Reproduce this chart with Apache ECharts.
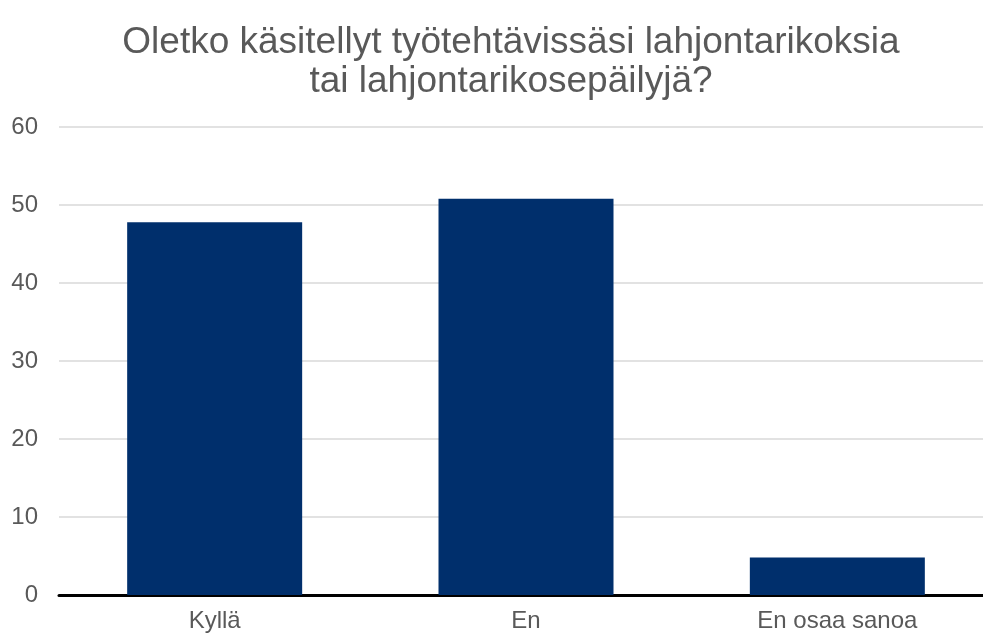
<!DOCTYPE html>
<html>
<head>
<meta charset="utf-8">
<script src="https://cdn.jsdelivr.net/npm/echarts@6/dist/echarts.min.js"></script>
<style>
html,body{margin:0;padding:0;background:#fff;}
#chart{width:983px;height:633px;}
</style>
</head>
<body>
<div id="chart"></div>
<script>
const titleText = "Oletko käsitellyt työtehtävissäsi lahjontarikoksia\ntai lahjontarikosepäilyjä?";
const categories = ["Kyllä", "En", "En osaa sanoa"];
const values = [47.8, 50.8, 4.8];
const yTicks = { min: 0, max: 60, interval: 10 };

const chart = echarts.init(document.getElementById('chart'), null, { renderer: 'canvas' });
chart.setOption({
  animation: false,
  backgroundColor: '#ffffff',
  title: {
    text: titleText,
    left: 506,
    textAlign: 'center',
    top: 18,
    textStyle: {
      fontFamily: 'Liberation Sans, Arial, sans-serif',
      fontSize: 37,
      fontWeight: 'normal',
      color: '#595959',
      lineHeight: 39
    }
  },
  grid: { left: 59, top: 127, width: 934, height: 468, containLabel: false, outerBoundsMode: 'none' },
  xAxis: {
    type: 'category',
    data: categories,
    axisLine: { show: true, lineStyle: { color: '#000000', width: 3 } },
    axisTick: { show: false },
    axisLabel: {
      color: '#595959',
      fontFamily: 'Liberation Sans, Arial, sans-serif',
      fontSize: 24,
      margin: 14
    }
  },
  yAxis: {
    type: 'value',
    min: yTicks.min,
    max: yTicks.max,
    interval: yTicks.interval,
    axisLine: { show: false },
    axisTick: { show: false },
    splitLine: { lineStyle: { color: '#d9d9d9', width: 1.5 } },
    axisLabel: {
      color: '#595959',
      fontFamily: 'Liberation Sans, Arial, sans-serif',
      fontSize: 24,
      margin: 21
    }
  },
  series: [{
    type: 'bar',
    data: values,
    barWidth: 175,
    itemStyle: { color: '#002f6c' }
  }]
});
</script>
</body>
</html>
